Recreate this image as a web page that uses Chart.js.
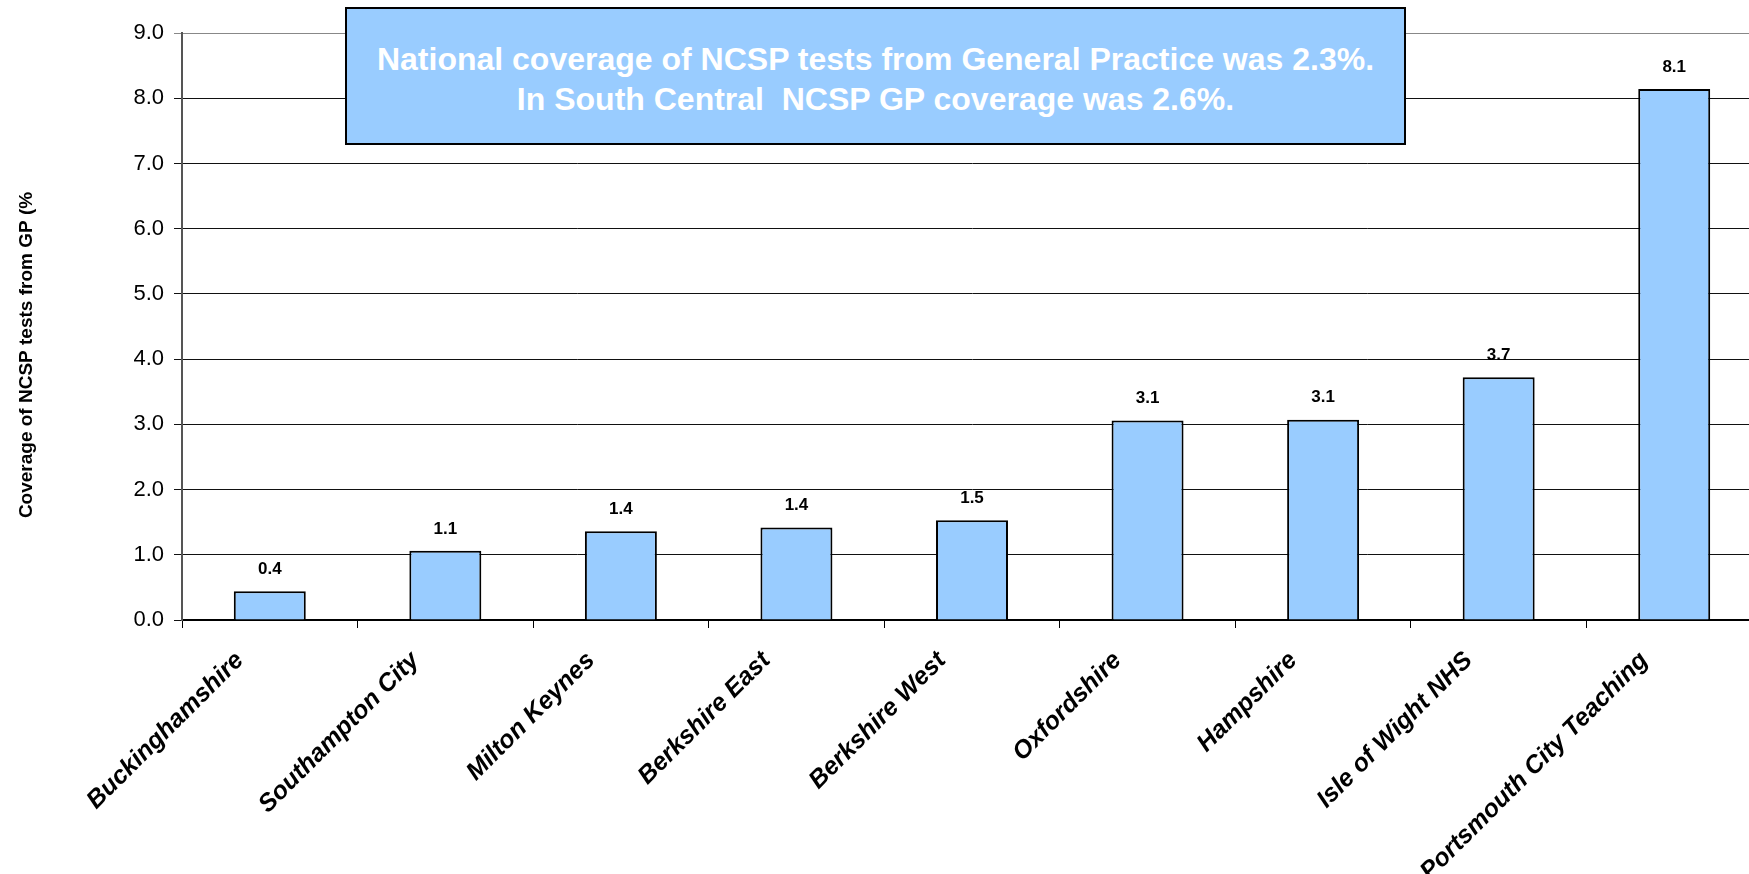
<!DOCTYPE html>
<html>
<head>
<meta charset="utf-8">
<script src="https://cdn.jsdelivr.net/npm/chart.js@4.4.1/dist/chart.umd.min.js"></script>
<style>
	body { margin: 0; overflow: hidden; background: #fff; }
	#wrap { position: relative; width: 1762px; height: 874px; }
	#note {
		position: absolute; left: 345px; top: 7px; width: 1061px; height: 138px;
		box-sizing: border-box; border: 2px solid #000; background: #99ccff;
		color: #fff; font: bold 32px "Liberation Sans", Arial, sans-serif;
		text-align: center; line-height: 40px; padding-top: 30px; white-space: pre;
	}
</style>
</head>
<body>
<div id="wrap">
	<canvas id="myChart"></canvas>
	<div id="note">National coverage of NCSP tests from General Practice was 2.3%.
In South Central  NCSP GP coverage was 2.6%.</div>
</div>
<script>
const categories = ['Buckinghamshire', 'Southampton City', 'Milton Keynes', 'Berkshire East', 'Berkshire West',
	'Oxfordshire', 'Hampshire', 'Isle of Wight NHS', 'Portsmouth City Teaching'];
const coverage = [0.44, 1.06, 1.36, 1.42, 1.53, 3.06, 3.07, 3.72, 8.14];
const yTitle = 'Coverage of NCSP tests from GP (%';

const FONT = '"Liberation Sans", Arial, sans-serif';

// value labels above bars
const barLabels = {
	id: 'barLabels',
	afterDatasetsDraw(chart) {
		const ctx = chart.ctx;
		const meta = chart.getDatasetMeta(0);
		ctx.save();
		ctx.font = 'bold 17px ' + FONT;
		ctx.fillStyle = '#000';
		ctx.textAlign = 'center';
		ctx.textBaseline = 'middle';
		meta.data.forEach((bar, i) => {
			ctx.fillText(coverage[i].toFixed(1), bar.x, bar.y - 22);
		});
		ctx.restore();
	}
};

// y axis title, drawn by hand so it sits where the original did
const sideTitle = {
	id: 'sideTitle',
	afterDraw(chart) {
		const ctx = chart.ctx;
		ctx.save();
		ctx.translate(32, 355);
		ctx.rotate(-Math.PI / 2);
		ctx.font = 'bold 19px ' + FONT;
		ctx.fillStyle = '#000';
		ctx.textAlign = 'center';
		ctx.textBaseline = 'alphabetic';
		ctx.fillText(yTitle, 0, 0);
		ctx.restore();
	}
};

const ctx = document.getElementById('myChart').getContext('2d');
const myChart = new Chart(ctx, {
	type: 'bar',
	data: {
		labels: categories,
		datasets: [{
			data: coverage,
			backgroundColor: '#99ccff',
			borderColor: '#000',
			borderWidth: 2,
			categoryPercentage: 1,
			barPercentage: 0.41
		}]
	},
	options: {
		responsive: true,
		maintainAspectRatio: false,
		animation: false,
		layout: { padding: { top: 33, left: 0, right: 0, bottom: 0 } },
		plugins: {
			legend: { display: false },
			tooltip: { enabled: false }
		},
		scales: {
			x: {
				grid: { drawOnChartArea: false, drawTicks: true, tickLength: 8, color: '#000', offset: true },
				border: { color: '#000', width: 2 },
				ticks: {
					autoSkip: false,
					minRotation: 45,
					maxRotation: 45,
					padding: 18,
					labelOffset: -30,
					color: '#000',
					font: { family: FONT, size: 25, weight: 'bold', style: 'italic' }
				},
				afterFit(scale) { scale.height = 254; }
			},
			y: {
				min: 0,
				max: 9,
				grid: {
					color: (c) => c.tick && c.tick.value === 9 ? '#888' : '#111',
					lineWidth: 1,
					tickLength: 8
				},
				border: { color: '#555', width: 2 },
				ticks: {
					stepSize: 1,
					padding: 10,
					color: '#000',
					font: { family: FONT, size: 22 },
					callback: (v) => v.toFixed(1)
				},
				afterFit(scale) { scale.width = 182; }
			}
		}
	},
	plugins: [barLabels, sideTitle]
});
</script>
</body>
</html>
